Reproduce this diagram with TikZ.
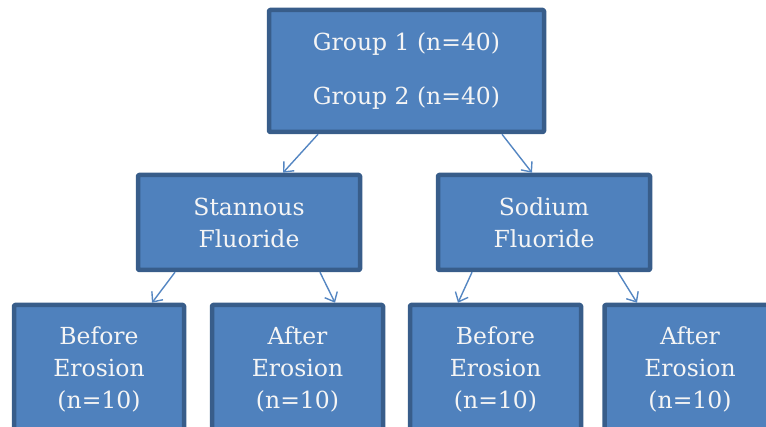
\documentclass[tikz,border=0pt]{standalone}
\usepackage{fontspec}
\setmainfont{DejaVu Serif}
\usetikzlibrary{arrows.meta}

\definecolor{boxfill}{RGB}{79,129,189}
\definecolor{boxline}{RGB}{56,93,138}
\definecolor{arrowblue}{RGB}{84,134,194}

\begin{document}
\begin{tikzpicture}[
    x = 1pt, y = -1pt,
    line join=round,
    boxstyle/.style = {draw=boxline, line width=4.5pt, fill=boxfill, text=white!96!black, align=center,
                       font=\fontsize{23.5}{32}\selectfont, inner sep=0pt, rounded corners=1pt},
    arrowstyle/.style = {-{Straight Barb[length=8pt,width=14pt]}, arrowblue, line width=1.4pt}
]

\clip (0, 0) rectangle (766, 427);

\node[boxstyle, minimum width=275pt, minimum height=122pt] (groups) at (406.5, 71) {Group 1 (n=40)\\[22pt]Group 2 (n=40)};

\node[boxstyle, minimum width=222pt, minimum height=95pt] (stannous) at (249, 222.5) {Stannous\\Fluoride};
\node[boxstyle, minimum width=212pt, minimum height=95pt] (sodium) at (544, 222.5) {Sodium\\Fluoride};

\node[boxstyle, minimum width=170pt, minimum height=128pt] (snbefore) at (99, 369) {Before\\Erosion\\(n=10)};
\node[boxstyle, minimum width=171pt, minimum height=128pt] (snafter) at (297.5, 369) {After\\Erosion\\(n=10)};
\node[boxstyle, minimum width=171pt, minimum height=128pt] (nabefore) at (495.5, 369) {Before\\Erosion\\(n=10)};
\node[boxstyle, minimum width=171pt, minimum height=128pt] (naafter) at (690, 369) {After\\Erosion\\(n=10)};

\draw[arrowstyle] ([xshift=-88.5pt]groups.south) -- ([xshift=34pt]stannous.north);
\draw[arrowstyle] ([xshift=95.5pt]groups.south) -- ([xshift=-12pt]sodium.north);

\draw[arrowstyle] ([xshift=-74pt]stannous.south) -- ([xshift=53pt]snbefore.north);
\draw[arrowstyle] ([xshift=71pt]stannous.south) -- ([xshift=37.5pt]snafter.north);

\draw[arrowstyle] ([xshift=-72pt]sodium.south) -- ([xshift=-37.5pt]nabefore.north);
\draw[arrowstyle] ([xshift=74pt]sodium.south) -- ([xshift=-53pt]naafter.north);

\end{tikzpicture}
\end{document}
